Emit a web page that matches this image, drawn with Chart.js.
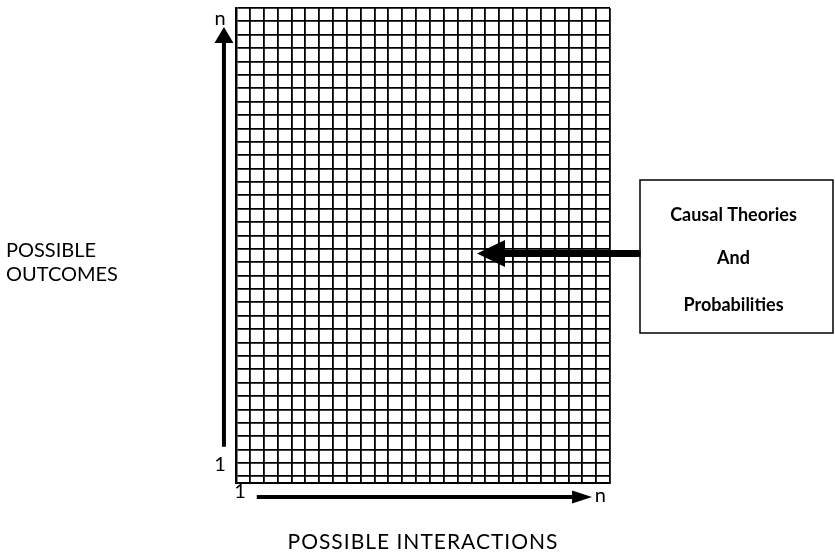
<!DOCTYPE html>
<html lang="en">
<head>
    <meta charset="UTF-8">
    <title>Possible Interactions and Outcomes</title>
    <style>
        body {
            margin: 0;
            background-color: #fff;
        }

        .chart-box {
            position: relative;
            width: 835px;
            height: 557px;
        }
    </style>
</head>
<body>

    <div class="chart-box">
        <canvas id="gridChart"></canvas>
    </div>

    <script src="https://cdn.jsdelivr.net/npm/chart.js"></script>
    <script>
        // Grid size: interactions across, outcomes up
        const interactionCells = 27;
        const outcomeCells = 35;

        // Tick labels at each end of the axes
        const xTickLabels = ['1', 'n'];
        const yTickLabels = ['1', 'n'];

        // Titles and box text
        const xTitle = 'POSSIBLE INTERACTIONS';
        const yTitle = ['POSSIBLE', 'OUTCOMES'];
        const boxLines = ['Causal Theories', 'And', 'Probabilities'];

        // Arrow shafts (grid units), the head is added on the last point
        const interactionArrow = [{ x: 1.5, y: -1.55 }, { x: 24.26, y: -1.55 }];
        const outcomeArrow = [{ x: -0.87, y: 2.2 }, { x: -0.87, y: 32.38 }];
        const causalArrow = [{ x: 29.2, y: 16.65 }, { x: 19.42, y: 16.65 }];

        const FONT = 'Lato, "Open Sans", "DejaVu Sans", sans-serif';

        // tick values for the grid lines (last row at the bottom is half height)
        const xGrid = [];
        for (let i = 0; i <= interactionCells; i++) xGrid.push(i);
        const yGrid = [-0.5];
        for (let i = 0; i <= outcomeCells; i++) yGrid.push(i);

        // arrow heads, drawn past the end of each shaft
        const arrowHeads = {
            id: 'arrowHeads',
            afterDatasetsDraw(chart) {
                const ctx = chart.ctx;
                ctx.save();
                ctx.fillStyle = '#000';
                chart.data.datasets.forEach((ds, i) => {
                    const pts = chart.getDatasetMeta(i).data;
                    const a = pts[pts.length - 2], b = pts[pts.length - 1];
                    const dx = b.x - a.x, dy = b.y - a.y;
                    const len = Math.hypot(dx, dy);
                    const ux = dx / len, uy = dy / len;
                    const L = ds.headLength, W = ds.headWidth / 2;
                    ctx.beginPath();
                    ctx.moveTo(b.x + ux * L, b.y + uy * L);
                    ctx.lineTo(b.x - uy * W, b.y + ux * W);
                    ctx.lineTo(b.x + uy * W, b.y - ux * W);
                    ctx.closePath();
                    ctx.fill();
                });
                ctx.restore();
            }
        };

        // draws labels, titles and the theory box
        const diagramText = {
            id: 'diagramText',
            afterDraw(chart) {
                const ctx = chart.ctx;
                const area = chart.chartArea;
                const x = chart.scales.x;
                const y = chart.scales.y;
                ctx.save();
                ctx.fillStyle = '#000';
                ctx.textAlign = 'center';
                ctx.textBaseline = 'middle';

                // axis end labels
                ctx.font = '20px ' + FONT;
                ctx.fillText(yTickLabels[0], area.left - 16, y.getPixelForValue(0.85));
                ctx.fillText(yTickLabels[1], area.left - 16, y.getPixelForValue(34.2));
                ctx.fillText(xTickLabels[0], x.getPixelForValue(0.3), area.bottom + 9);
                ctx.fillText(xTickLabels[1], x.getPixelForValue(26.3), area.bottom + 13);

                // y title, horizontal on the left
                ctx.font = '20px ' + FONT;
                ctx.textAlign = 'left';
                ctx.fillText(yTitle[0], 6, 251);
                ctx.fillText(yTitle[1], 6, 275);

                // x title
                ctx.textAlign = 'center';
                ctx.font = '21px ' + FONT;
                ctx.letterSpacing = '1px';
                ctx.fillText(xTitle, (area.left + area.right) / 2, area.bottom + 59);
                ctx.letterSpacing = '0px';

                // theory box
                const bx = area.right + 30, bw = 193, by = 180, bh = 153;
                ctx.lineWidth = 1.5;
                ctx.strokeStyle = '#000';
                ctx.strokeRect(bx, by, bw, bh);
                ctx.font = 'bold 18px ' + FONT;
                const lineY = [215, 258, 305];
                boxLines.forEach((t, i) => ctx.fillText(t, bx + bw / 2 - 3, lineY[i]));

                ctx.restore();
            }
        };

        function arrowSet(points, width, headLength, headWidth) {
            return {
                data: points,
                showLine: true,
                borderColor: '#000',
                backgroundColor: '#000',
                borderWidth: width,
                borderCapStyle: 'butt',
                pointRadius: 0,
                pointHoverRadius: 0,
                clip: false,
                headLength: headLength,
                headWidth: headWidth
            };
        }

        const ctx = document.getElementById('gridChart').getContext('2d');

        new Chart(ctx, {
            type: 'scatter',
            data: {
                datasets: [
                    arrowSet(outcomeArrow, 4, 16, 19),
                    arrowSet(interactionArrow, 4, 20, 13),
                    arrowSet(causalArrow, 7, 28, 27)
                ]
            },
            options: {
                responsive: true,
                maintainAspectRatio: false,
                animation: false,
                events: [],
                layout: {
                    padding: { left: 236, top: 8, right: 225, bottom: 74 }
                },
                plugins: {
                    legend: { display: false },
                    tooltip: { enabled: false }
                },
                scales: {
                    x: {
                        type: 'linear',
                        min: 0,
                        max: interactionCells,
                        afterBuildTicks: (s) => { s.ticks = xGrid.map(v => ({ value: v })); },
                        ticks: { display: false },
                        grid: { color: '#000', lineWidth: 1.8, drawTicks: false },
                        border: { color: '#000', width: 2 }
                    },
                    y: {
                        type: 'linear',
                        min: -0.5,
                        max: outcomeCells,
                        afterBuildTicks: (s) => { s.ticks = yGrid.map(v => ({ value: v })); },
                        ticks: { display: false },
                        grid: { color: '#000', lineWidth: 1.8, drawTicks: false },
                        border: { color: '#000', width: 2.5 }
                    }
                }
            },
            plugins: [arrowHeads, diagramText]
        });
    </script>

</body>
</html>
